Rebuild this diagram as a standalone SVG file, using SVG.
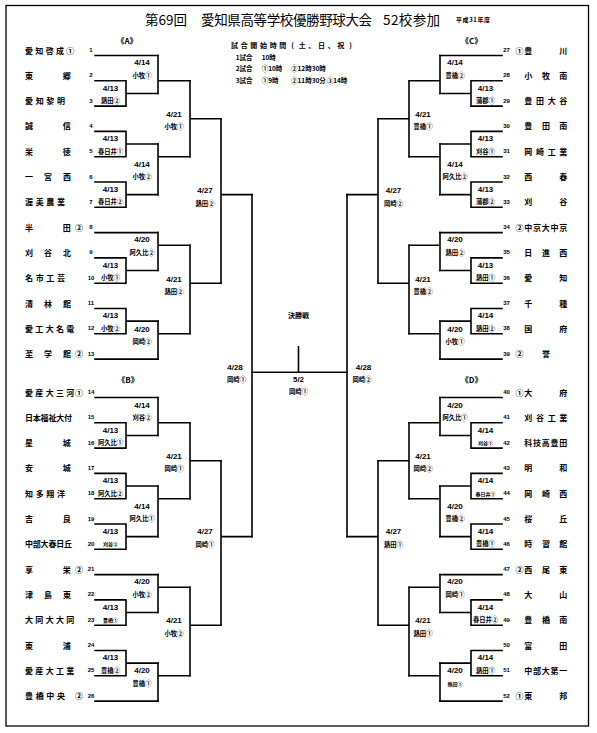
<svg xmlns="http://www.w3.org/2000/svg" width="597" height="733" viewBox="0 0 597 733">
<style>
text{font-family:"Liberation Sans","Noto Sans CJK JP",sans-serif;dominant-baseline:central;text-anchor:middle;fill:#000}
.nm{font-family:"Noto Sans CJK JP",sans-serif;font-size:8px;font-weight:bold}
.no{font-size:6px;font-weight:bold}
.dt{font-size:8px;font-weight:bold}
.wn{font-family:"Noto Sans CJK JP",sans-serif;font-size:6.3px;font-weight:bold}
.sm{font-size:5px}
.blk{font-family:"Noto Sans CJK JP",sans-serif;font-size:8px;font-weight:bold}
.hd{font-family:"Noto Sans CJK JP",sans-serif;font-size:6.5px;font-weight:bold;text-anchor:start}
.h1{font-family:"Noto Sans CJK JP",sans-serif;font-size:7px;font-weight:bold}
.tt{font-family:"Noto Sans CJK JP",sans-serif;font-size:13.5px;text-anchor:start}
.ln{fill:none;stroke:#000;stroke-width:1.6;stroke-linecap:square}
</style>
<rect x="6" y="5.5" width="582.5" height="720.5" fill="#fff" stroke="#000" stroke-width="1.3"/>
<g id="title">
<text class="tt" x="145" y="19" textLength="42">第69回</text>
<text class="tt" x="201" y="19" textLength="171">愛知県高等学校優勝野球大会</text>
<text class="tt" x="383" y="19" textLength="57">52校参加</text>
<text class="hd" x="456" y="19.5" textLength="34" style="font-size:6px">平成31年度</text>
</g>
<g id="schedule">
<text class="h1" x="234.5 244.2 253.8 263.5 273.2 282.8 292.5 302.2 311.8 321.5 331.2 340.8 350.5" y="45">試合開始時間(土、日、祝)</text>
<text class="hd" x="235.7" y="56.5">1試合</text><text class="hd" x="261.7" y="56.5">10時</text>
<text class="hd" x="235.7" y="68">2試合</text><text class="hd" x="261.7" y="68">①10時</text><text class="hd" x="291" y="68">②12時30時</text>
<text class="hd" x="235.7" y="80">3試合</text><text class="hd" x="261.7" y="80">①9時</text><text class="hd" x="291" y="80">②11時30分</text><text class="hd" x="326.7" y="80">③14時</text>
</g>
<g id="block-labels">
<text class="blk" x="127" y="40">《A》</text>
<text class="blk" x="128" y="379.3">《B》</text>
<text class="blk" x="471.7" y="40">《C》</text>
<text class="blk" x="471.7" y="379.3">《D》</text>
</g>
<g id="connectors" class="ln">
<path d="M95 55.5H158"/>
<path d="M95 80.8H126V106.1H95M126 93.45H158"/>
<path d="M158 55.5V93.45M158 80.8H190"/>
<path d="M95 131.4H126V156.7H95M126 144.05H158"/>
<path d="M95 182H126V207.3H95M126 194.65H158"/>
<path d="M158 144.05V194.65M158 156.7H190"/>
<path d="M190 80.8V156.7M190 118.75H221"/>
<path d="M95 232.6H158"/>
<path d="M95 257.9H126V283.2H95M126 270.55H158"/>
<path d="M158 232.6V270.55M158 245.25H190"/>
<path d="M95 308.5H126V333.8H95M126 321.15H158"/>
<path d="M95 359.1H158"/>
<path d="M158 321.15V359.1M158 333.8H190"/>
<path d="M190 245.25V333.8M190 283.2H221"/>
<path d="M221 118.75V283.2M221 194.65H252"/>
<path d="M95 397.5H158"/>
<path d="M95 422.8H126V448.1H95M126 435.45H158"/>
<path d="M158 397.5V435.45M158 422.8H190"/>
<path d="M95 473.4H126V498.7H95M126 486.05H158"/>
<path d="M95 524H126V549.3H95M126 536.65H158"/>
<path d="M158 486.05V536.65M158 498.7H190"/>
<path d="M190 422.8V498.7M190 460.75H221"/>
<path d="M95 574.6H158"/>
<path d="M95 599.9H126V625.2H95M126 612.55H158"/>
<path d="M158 574.6V612.55M158 587.25H190"/>
<path d="M95 650.5H126V675.8H95M126 663.15H158"/>
<path d="M95 701.1H158"/>
<path d="M158 663.15V701.1M158 675.8H190"/>
<path d="M190 587.25V675.8M190 625.2H221"/>
<path d="M221 460.75V625.2M221 536.65H252"/>
<path d="M252 194.65V536.65"/>
<path d="M347 194.65V536.65"/>
<path d="M252 372.3H347M298.5 346.7V372.3"/>
<path d="M502 55.5H440"/>
<path d="M502 80.8H471V106.1H502M471 93.45H440"/>
<path d="M440 55.5V93.45M440 80.8H409"/>
<path d="M502 131.4H471V156.7H502M471 144.05H440"/>
<path d="M502 182H471V207.3H502M471 194.65H440"/>
<path d="M440 144.05V194.65M440 156.7H409"/>
<path d="M409 80.8V156.7M409 118.75H378"/>
<path d="M502 232.6H440"/>
<path d="M502 257.9H471V283.2H502M471 270.55H440"/>
<path d="M440 232.6V270.55M440 245.25H409"/>
<path d="M502 308.5H471V333.8H502M471 321.15H440"/>
<path d="M502 359.1H440"/>
<path d="M440 321.15V359.1M440 333.8H409"/>
<path d="M409 245.25V333.8M409 283.2H378"/>
<path d="M378 118.75V283.2M378 194.65H347"/>
<path d="M502 397.5H440"/>
<path d="M502 422.8H471V448.1H502M471 435.45H440"/>
<path d="M440 397.5V435.45M440 422.8H409"/>
<path d="M502 473.4H471V498.7H502M471 486.05H440"/>
<path d="M502 524H471V549.3H502M471 536.65H440"/>
<path d="M440 486.05V536.65M440 498.7H409"/>
<path d="M409 422.8V498.7M409 460.75H378"/>
<path d="M502 574.6H440"/>
<path d="M502 599.9H471V625.2H502M471 612.55H440"/>
<path d="M440 574.6V612.55M440 587.25H409"/>
<path d="M502 650.5H471V675.8H502M471 663.15H440"/>
<path d="M502 701.1H440"/>
<path d="M440 663.15V701.1M440 675.8H409"/>
<path d="M409 587.25V675.8M409 625.2H378"/>
<path d="M378 460.75V625.2M378 536.65H347"/>
</g>
<g id="team-1"><text class="nm" x="29 39.3 49.7 60 70.3" y="50">愛知啓成①</text><text class="no" x="91" y="50">1</text></g>
<g id="team-2"><text class="nm" x="29 66.7" y="75.3">東郷</text><text class="no" x="91" y="75.3">2</text></g>
<g id="team-3"><text class="nm" x="29 39.7 50.3 61" y="100.6">愛知黎明</text><text class="no" x="91" y="100.6">3</text></g>
<g id="team-4"><text class="nm" x="29 66.7" y="125.9">誠信</text><text class="no" x="91" y="125.9">4</text></g>
<g id="team-5"><text class="nm" x="29 66.7" y="151.2">栄徳</text><text class="no" x="91" y="151.2">5</text></g>
<g id="team-6"><text class="nm" x="29 48 67" y="176.5">一宮西</text><text class="no" x="91" y="176.5">6</text></g>
<g id="team-7"><text class="nm" x="29 39.7 50.3 61" y="201.8">渥美農業</text><text class="no" x="91" y="201.8">7</text></g>
<g id="team-8"><text class="nm" x="29 66.7 79" y="227.1">半田②</text><text class="no" x="91" y="227.1">8</text></g>
<g id="team-9"><text class="nm" x="29 48 67" y="252.4">刈谷北</text><text class="no" x="91" y="252.4">9</text></g>
<g id="team-10"><text class="nm" x="29 39.7 50.3 61" y="277.7">名市工芸</text><text class="no" x="91" y="277.7">10</text></g>
<g id="team-11"><text class="nm" x="29 48 67" y="303">清林館</text><text class="no" x="91" y="303">11</text></g>
<g id="team-12"><text class="nm" x="29 39.3 49.7 60 70.3" y="328.3">愛工大名電</text><text class="no" x="91" y="328.3">12</text></g>
<g id="team-13"><text class="nm" x="29 48 67 79" y="353.6">至学館②</text><text class="no" x="91" y="353.6">13</text></g>
<g id="team-14"><text class="nm" x="29 39.3 49.7 60 70.3 79" y="392">愛産大三河①</text><text class="no" x="91" y="392">14</text></g>
<g id="team-15"><text class="nm" x="29 36.8 44.6 52.4 60.2 68" y="417.3">日本福祉大付</text><text class="no" x="91" y="417.3">15</text></g>
<g id="team-16"><text class="nm" x="29 66.7" y="442.6">星城</text><text class="no" x="91" y="442.6">16</text></g>
<g id="team-17"><text class="nm" x="29 66.7" y="467.9">安城</text><text class="no" x="91" y="467.9">17</text></g>
<g id="team-18"><text class="nm" x="29 39.7 50.3 61" y="493.2">知多翔洋</text><text class="no" x="91" y="493.2">18</text></g>
<g id="team-19"><text class="nm" x="29 66.7" y="518.5">吉良</text><text class="no" x="91" y="518.5">19</text></g>
<g id="team-20"><text class="nm" x="29 36.8 44.6 52.4 60.2 68" y="543.8">中部大春日丘</text><text class="no" x="91" y="543.8">20</text></g>
<g id="team-21"><text class="nm" x="29 66.7 79" y="569.1">享栄②</text><text class="no" x="91" y="569.1">21</text></g>
<g id="team-22"><text class="nm" x="29 48 67" y="594.4">津島東</text><text class="no" x="91" y="594.4">22</text></g>
<g id="team-23"><text class="nm" x="29 39.3 49.7 60 70.3" y="619.7">大同大大同</text><text class="no" x="91" y="619.7">23</text></g>
<g id="team-24"><text class="nm" x="29 66.7" y="645">東浦</text><text class="no" x="91" y="645">24</text></g>
<g id="team-25"><text class="nm" x="29 39.3 49.7 60 70.3" y="670.3">愛産大工業</text><text class="no" x="91" y="670.3">25</text></g>
<g id="team-26"><text class="nm" x="29 39.7 50.3 61 79" y="695.6">豊橋中央②</text><text class="no" x="91" y="695.6">26</text></g>
<g id="team-27"><text class="no" x="506.5" y="50">27</text><text class="nm" x="519.5 528.3 563.3" y="50">①豊川</text></g>
<g id="team-28"><text class="no" x="506.5" y="75.3">28</text><text class="nm" x="528.3 546 563.3" y="75.3">小牧南</text></g>
<g id="team-29"><text class="no" x="506.5" y="100.6">29</text><text class="nm" x="528.3 540 551.7 563.3" y="100.6">豊田大谷</text></g>
<g id="team-30"><text class="no" x="506.5" y="125.9">30</text><text class="nm" x="528.3 546 563.3" y="125.9">豊田南</text></g>
<g id="team-31"><text class="no" x="506.5" y="151.2">31</text><text class="nm" x="528.3 540 551.7 563.3" y="151.2">岡崎工業</text></g>
<g id="team-32"><text class="no" x="506.5" y="176.5">32</text><text class="nm" x="528.3 563.3" y="176.5">西春</text></g>
<g id="team-33"><text class="no" x="506.5" y="201.8">33</text><text class="nm" x="528.3 563.3" y="201.8">刈谷</text></g>
<g id="team-34"><text class="no" x="506.5" y="227.1">34</text><text class="nm" x="519.5 528.3 537 545.8 554.5 563.3" y="227.1">②中京大中京</text></g>
<g id="team-35"><text class="no" x="506.5" y="252.4">35</text><text class="nm" x="528.3 546 563.3" y="252.4">日進西</text></g>
<g id="team-36"><text class="no" x="506.5" y="277.7">36</text><text class="nm" x="528.3 563.3" y="277.7">愛知</text></g>
<g id="team-37"><text class="no" x="506.5" y="303">37</text><text class="nm" x="528.3 563.3" y="303">千種</text></g>
<g id="team-38"><text class="no" x="506.5" y="328.3">38</text><text class="nm" x="528.3 563.3" y="328.3">国府</text></g>
<g id="team-39"><text class="no" x="506.5" y="353.6">39</text><text class="nm" x="519.5 546" y="353.6">②誉</text></g>
<g id="team-40"><text class="no" x="506.5" y="392">40</text><text class="nm" x="519.5 528.3 563.3" y="392">①大府</text></g>
<g id="team-41"><text class="no" x="506.5" y="417.3">41</text><text class="nm" x="528.3 540 551.7 563.3" y="417.3">刈谷工業</text></g>
<g id="team-42"><text class="no" x="506.5" y="442.6">42</text><text class="nm" x="528.3 537 545.8 554.5 563.3" y="442.6">科技高豊田</text></g>
<g id="team-43"><text class="no" x="506.5" y="467.9">43</text><text class="nm" x="528.3 563.3" y="467.9">明和</text></g>
<g id="team-44"><text class="no" x="506.5" y="493.2">44</text><text class="nm" x="528.3 546 563.3" y="493.2">岡崎西</text></g>
<g id="team-45"><text class="no" x="506.5" y="518.5">45</text><text class="nm" x="528.3 563.3" y="518.5">桜丘</text></g>
<g id="team-46"><text class="no" x="506.5" y="543.8">46</text><text class="nm" x="528.3 546 563.3" y="543.8">時習館</text></g>
<g id="team-47"><text class="no" x="506.5" y="569.1">47</text><text class="nm" x="519.5 528.3 546 563.3" y="569.1">②西尾東</text></g>
<g id="team-48"><text class="no" x="506.5" y="594.4">48</text><text class="nm" x="528.3 563.3" y="594.4">大山</text></g>
<g id="team-49"><text class="no" x="506.5" y="619.7">49</text><text class="nm" x="528.3 546 563.3" y="619.7">豊橋南</text></g>
<g id="team-50"><text class="no" x="506.5" y="645">50</text><text class="nm" x="528.3 563.3" y="645">富田</text></g>
<g id="team-51"><text class="no" x="506.5" y="670.3">51</text><text class="nm" x="528.3 537 545.8 554.5 563.3" y="670.3">中部大第一</text></g>
<g id="team-52"><text class="no" x="506.5" y="695.6">52</text><text class="nm" x="519.5 528.3 563.3" y="695.6">①東邦</text></g>
<g id="match-A-r1">
<text class="dt" x="110.5" y="88.3">4/13</text><text class="wn" x="110.5" y="100.6">熱田②</text>
<text class="dt" x="110.5" y="138.6">4/13</text><text class="wn" x="110.5" y="151.2">春日井①</text>
<text class="dt" x="110.5" y="189.2">4/13</text><text class="wn" x="110.5" y="201.8">春日井②</text>
<text class="dt" x="110.5" y="265.1">4/13</text><text class="wn" x="110.5" y="277.7">小牧①</text>
<text class="dt" x="110.5" y="315.7">4/13</text><text class="wn" x="110.5" y="328.3">小牧②</text>
</g>
<g id="match-B-r1">
<text class="dt" x="110.5" y="430">4/13</text><text class="wn" x="110.5" y="442.6">阿久比①</text>
<text class="dt" x="110.5" y="480.6">4/13</text><text class="wn" x="110.5" y="493.2">阿久比②</text>
<text class="dt" x="110.5" y="531.2">4/13</text><text class="wn sm" x="110.5" y="543.8">刈谷②</text>
<text class="dt" x="110.5" y="607">4/13</text><text class="wn sm" x="110.5" y="619.7">豊橋①</text>
<text class="dt" x="110.5" y="657.6">4/13</text><text class="wn" x="110.5" y="670.3">豊橋②</text>
</g>
<g id="match-A-r2">
<text class="dt" x="142" y="62.3">4/14</text><text class="wn" x="142" y="75.3">小牧①</text>
<text class="dt" x="142" y="164.5">4/14</text><text class="wn" x="142" y="176.5">小牧②</text>
<text class="dt" x="142" y="239.8">4/20</text><text class="wn" x="142" y="252.4">阿久比②</text>
<text class="dt" x="142" y="329">4/20</text><text class="wn" x="142" y="341.5">岡崎②</text>
</g>
<g id="match-B-r2">
<text class="dt" x="142" y="405">4/14</text><text class="wn" x="142" y="417.3">刈谷②</text>
<text class="dt" x="142" y="506">4/14</text><text class="wn" x="142" y="518.5">阿久比①</text>
<text class="dt" x="142" y="581.7">4/20</text><text class="wn" x="142" y="594.4">小牧②</text>
<text class="dt" x="142" y="670.5">4/20</text><text class="wn" x="142" y="683">豊橋①</text>
</g>
<g id="match-AB-r3">
<text class="dt" x="174" y="114">4/21</text><text class="wn" x="174" y="126.7">小牧①</text>
<text class="dt" x="174" y="279">4/21</text><text class="wn" x="174" y="291.5">熱田②</text>
<text class="dt" x="174" y="456">4/21</text><text class="wn" x="174" y="468.7">岡崎①</text>
<text class="dt" x="174" y="620.5">4/21</text><text class="wn" x="174" y="633">小牧②</text>
<text class="dt" x="205" y="190">4/27</text><text class="wn" x="205" y="203">熱田②</text>
<text class="dt" x="205" y="531">4/27</text><text class="wn" x="205" y="544">岡崎①</text>
</g>
<g id="match-C-r1">
<text class="dt" x="485.5" y="88.3">4/13</text><text class="wn" x="485.5" y="100.6">蒲郡①</text>
<text class="dt" x="485.5" y="138.6">4/13</text><text class="wn" x="485.5" y="151.2">刈谷①</text>
<text class="dt" x="485.5" y="189.2">4/13</text><text class="wn" x="485.5" y="201.8">蒲郡②</text>
<text class="dt" x="485.5" y="265.1">4/13</text><text class="wn" x="485.5" y="277.7">熱田①</text>
<text class="dt" x="485.5" y="315.7">4/14</text><text class="wn" x="485.5" y="328.3">熱田②</text>
</g>
<g id="match-D-r1">
<text class="dt" x="485.5" y="430">4/14</text><text class="wn sm" x="485.5" y="442.6">刈谷①</text>
<text class="dt" x="485.5" y="480.6">4/14</text><text class="wn sm" x="485.5" y="493.2">春日井①</text>
<text class="dt" x="485.5" y="531.2">4/14</text><text class="wn" x="485.5" y="543.8">豊橋①</text>
<text class="dt" x="485.5" y="607">4/14</text><text class="wn" x="485.5" y="619.7">春日井②</text>
<text class="dt" x="485.5" y="657.6">4/14</text><text class="wn" x="485.5" y="670.3">熱田①</text>
</g>
<g id="match-C-r2">
<text class="dt" x="455" y="62.3">4/14</text><text class="wn" x="455" y="75.3">豊橋②</text>
<text class="dt" x="455" y="164.5">4/14</text><text class="wn" x="455" y="176.5">阿久比②</text>
<text class="dt" x="455" y="239.8">4/20</text><text class="wn" x="455" y="252.4">熱田②</text>
<text class="dt" x="455" y="329">4/20</text><text class="wn" x="455" y="341.5">小牧①</text>
</g>
<g id="match-D-r2">
<text class="dt" x="455" y="405">4/20</text><text class="wn" x="455" y="417.3">阿久比①</text>
<text class="dt" x="455" y="506">4/20</text><text class="wn" x="455" y="518.5">豊橋②</text>
<text class="dt" x="455" y="581.7">4/20</text><text class="wn" x="455" y="594.4">岡崎①</text>
<text class="dt" x="455" y="670.5">4/20</text><text class="wn sm" x="455" y="683">熱田①</text>
</g>
<g id="match-CD-r3">
<text class="dt" x="423" y="114">4/21</text><text class="wn" x="423" y="126.7">豊橋①</text>
<text class="dt" x="423" y="279">4/21</text><text class="wn" x="423" y="291.5">豊橋②</text>
<text class="dt" x="423" y="456">4/21</text><text class="wn" x="423" y="468.7">岡崎②</text>
<text class="dt" x="423" y="620.5">4/21</text><text class="wn" x="423" y="633">熱田①</text>
<text class="dt" x="393.5" y="190">4/27</text><text class="wn" x="393.5" y="203">岡崎②</text>
<text class="dt" x="393.5" y="531">4/27</text><text class="wn" x="393.5" y="544">熱田①</text>
</g>
<g id="match-final">
<text class="dt" x="235" y="367.3">4/28</text><text class="wn" x="236.5" y="379.3">岡崎①</text>
<text class="dt" x="363.5" y="367.3">4/28</text><text class="wn" x="362" y="379.3">岡崎②</text>
<text class="wn" x="298.5" y="315" style="font-size:7px">決勝戦</text>
<text class="dt" x="298.5" y="379.3">5/2</text><text class="wn" x="298.5" y="391">岡崎①</text>
</g>
</svg>
